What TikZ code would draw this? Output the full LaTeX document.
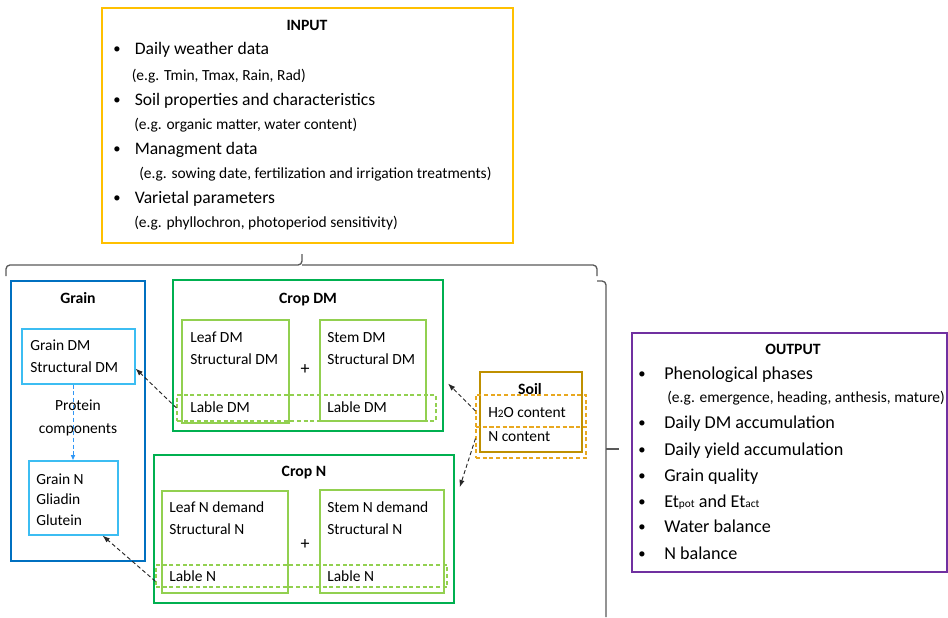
\documentclass[tikz,border=0pt]{standalone}
\usepackage{fontspec}
\setmainfont{Carlito}
\usetikzlibrary{arrows.meta,fit}
\definecolor{cIn}{HTML}{FFC000}
\definecolor{cGrain}{HTML}{0070C0}
\definecolor{cGrainL}{HTML}{3CBDF2}
\definecolor{cCrop}{HTML}{00B050}
\definecolor{cCropL}{HTML}{92D050}
\definecolor{cSoil}{HTML}{BF9000}
\definecolor{cSoilD}{HTML}{E8A820}
\definecolor{cOut}{HTML}{7030A0}
\definecolor{cBrace}{HTML}{595959}
\newcommand\fsz[1]{\fontsize{#1}{#1}\selectfont}
\newcommand\smalltxt[1]{{\fontsize{8.5}{8.5}\selectfont #1}}
\begin{document}
\begin{tikzpicture}[x=0.75pt,y=-0.75pt,
  frame/.style={draw, line width=1.5pt, inner sep=0pt},
  thinbox/.style={draw, line width=0.8pt, inner sep=0pt},
  dbox/.style={draw, line width=0.8pt, inner sep=0pt, dash pattern=on 3pt off 2pt},
  title/.style={anchor=base, inner sep=0pt, font=\bfseries\fsz{11.8}},
  txt/.style={anchor=base west, inner sep=0pt, font=\fsz{11.6}},
  txtc/.style={anchor=base, inner sep=0pt, font=\fsz{11.6}},
  plus/.style={anchor=base, inner sep=0pt, font=\fsz{13.5}},
  inmain/.style={anchor=base west, inner sep=0pt, font=\fsz{13.2}},
  outmain/.style={anchor=base west, inner sep=0pt, font=\fsz{13.6}},
  bul/.style={anchor=base west, inner sep=0pt, font=\fsz{11}},
  arr/.style={-{Latex[length=5.5pt,width=4pt]}, dash pattern=on 3pt off 2pt, line width=0.7pt, draw=black!85},
  brace/.style={draw=cBrace, line width=1pt, rounded corners=3pt}]
\useasboundingbox (0,0) rectangle (948,617);

% ---------------- INPUT ----------------
\node[frame, draw=cIn, fit={(102,8) (513,243)}] (input) {};
\node[title] (inT) at (307,31) {INPUT};
\node[bul] (ib1) at (113,54) {\textbullet};
\node[inmain] (i1) at (134.5,55) {Daily weather data};
\node[txt] (i1s) at (131.5,80) {(e.g. Tmin, Tmax, Rain, Rad)};
\node[bul] (ib2) at (113,104) {\textbullet};
\node[inmain] (i2) at (134.5,105) {Soil properties and characteristics};
\node[txt] (i2s) at (134,129.5) {(e.g. organic matter, water content)};
\node[bul] (ib3) at (113,153) {\textbullet};
\node[inmain] (i3) at (134.5,154) {Managment data};
\node[txt] (i3s) at (139,178.5) {(e.g. sowing date, fertilization and irrigation treatments)};
\node[bul] (ib4) at (113,202) {\textbullet};
\node[inmain] (i4) at (134.5,203) {Varietal parameters};
\node[txt] (i4s) at (134,227) {(e.g. phyllochron, photoperiod sensitivity)};

% ---------------- braces ----------------
\draw[brace] (6,276) -- (6,265) -- (302,265) -- (302,254);
\draw[brace] (302,265) -- (597,265) -- (597,276);
\draw[brace] (597,281) -- (606,281) -- (606,617);
\draw[brace] (606,449) -- (619,449);

% ---------------- GRAIN ----------------
\node[frame, draw=cGrain, fit={(11,281) (145,561)}] (grain) {};
\node[title] (grainT) at (78,303) {Grain};
\node[thinbox, draw=cGrainL, fit={(22,329) (135,384)}] (grainDM) {};
\node[thinbox, draw=cGrainL, fit={(29,461) (118,535)}] (grainN) {};
\draw[-{Latex[length=4pt,width=3.5pt]}, draw=cGrainL!80!blue, dash pattern=on 3pt off 2pt, line width=0.7pt] (grainDM.south -| 73,0) -- (grainN.north -| 73,0);
\node[txt] (gdm1) at (30,350) {Grain DM};
\node[txt] (gdm2) at (30,372) {Structural DM};
\node[txtc] (prot1) at (78,410) {Protein};
\node[txtc] (prot2) at (78,433) {components};
\node[txt] (gn1) at (36,484) {Grain N};
\node[txt] (gn2) at (36,504.5) {Gliadin};
\node[txt] (gn3) at (36,525) {Glutein};

% ---------------- CROP DM ----------------
\node[frame, draw=cCrop, fit={(173,280) (443,431)}] (cropDM) {};
\node[title] (cropDMT) at (308,303) {Crop DM};
\node[thinbox, draw=cCropL, fit={(182,320) (289,423)}] (leafDM) {};
\node[thinbox, draw=cCropL, fit={(320,320) (426,421)}] (stemDM) {};
\node[dbox, draw=cCropL, fit={(177,395) (436,421)}] (lableDM) {};
\node[txt] (ldm1) at (190,342) {Leaf DM};
\node[txt] (ldm2) at (190,364) {Structural DM};
\node[txt] (sdm1) at (327,342) {Stem DM};
\node[txt] (sdm2) at (327,364) {Structural DM};
\node[plus] (plusDM) at (305,374) {+};
\node[txt] (ldm3) at (190,412.5) {Lable DM};
\node[txt] (sdm3) at (327,412.5) {Lable DM};

% ---------------- CROP N ----------------
\node[frame, draw=cCrop, fit={(154,455) (454,603)}] (cropN) {};
\node[title] (cropNT) at (304,476) {Crop N};
\node[thinbox, draw=cCropL, fit={(162,491) (288,593)}] (leafN) {};
\node[thinbox, draw=cCropL, fit={(320,490) (444,593)}] (stemN) {};
\node[dbox, draw=cCropL, fit={(156,565) (447,587)}] (lableN) {};
\node[txt] (ln1) at (169,512) {Leaf N demand};
\node[txt] (ln2) at (169,534) {Structural N};
\node[txt] (sn1) at (327,512) {Stem N demand};
\node[txt] (sn2) at (327,534) {Structural N};
\node[plus] (plusN) at (305,549) {+};
\node[txt] (ln3) at (169,581) {Lable N};
\node[txt] (sn3) at (327,581) {Lable N};

% ---------------- SOIL ----------------
\node[frame, draw=cSoil, fit={(480,372) (582,452)}] (soil) {};
\node[dbox, draw=cSoilD, fit={(476,395) (586,427)}] (h2o) {};
\node[dbox, draw=cSoilD, fit={(476,427) (586,458)}] (ncont) {};
\node[title] (soilT) at (530,394) {Soil};
\node[txt] (h2oT) at (488,417) {H\smalltxt{2}O content};
\node[txt] (ncT) at (488,441) {N content};

% ---------------- OUTPUT ----------------
\node[frame, draw=cOut, fit={(632,333) (947,572)}] (output) {};
\node[title] (outT) at (793,354) {OUTPUT};
\node[bul] (ob1) at (638,378) {\textbullet};
\node[outmain] (o1) at (664,379) {Phenological phases};
\node[txt] (o1s) at (667,402) {(e.g. emergence, heading, anthesis, mature)};
\node[bul] (ob2) at (638,427) {\textbullet};
\node[outmain] (o2) at (664,428) {Daily DM accumulation};
\node[bul] (ob3) at (638,454) {\textbullet};
\node[outmain] (o3) at (664,455) {Daily yield accumulation};
\node[bul] (ob4) at (638,480) {\textbullet};
\node[outmain] (o4) at (664,481) {Grain quality};
\node[bul] (ob5) at (638,506) {\textbullet};
\node[outmain] (o5) at (664,507) {Et\smalltxt{pot} and Et\smalltxt{act}};
\node[bul] (ob6) at (638,531) {\textbullet};
\node[outmain] (o6) at (664,532) {Water balance};
\node[bul] (ob7) at (638,558) {\textbullet};
\node[outmain] (o7) at (664,559) {N balance};

% ---------------- connectors ----------------
\draw[arr] (lableDM.west) -- ([yshift=-9pt]grainDM.east);
\draw[arr] ([yshift=-4pt]lableN.west) -- ([xshift=-12pt]grainN.south east);
\draw[arr] (h2o.west) -- ([xshift=3pt,yshift=-21pt]cropDM.east);
\draw[arr] ([yshift=3pt]ncont.west) -- ([xshift=3.5pt,yshift=-25pt]cropN.north east);
\end{tikzpicture}
\end{document}
